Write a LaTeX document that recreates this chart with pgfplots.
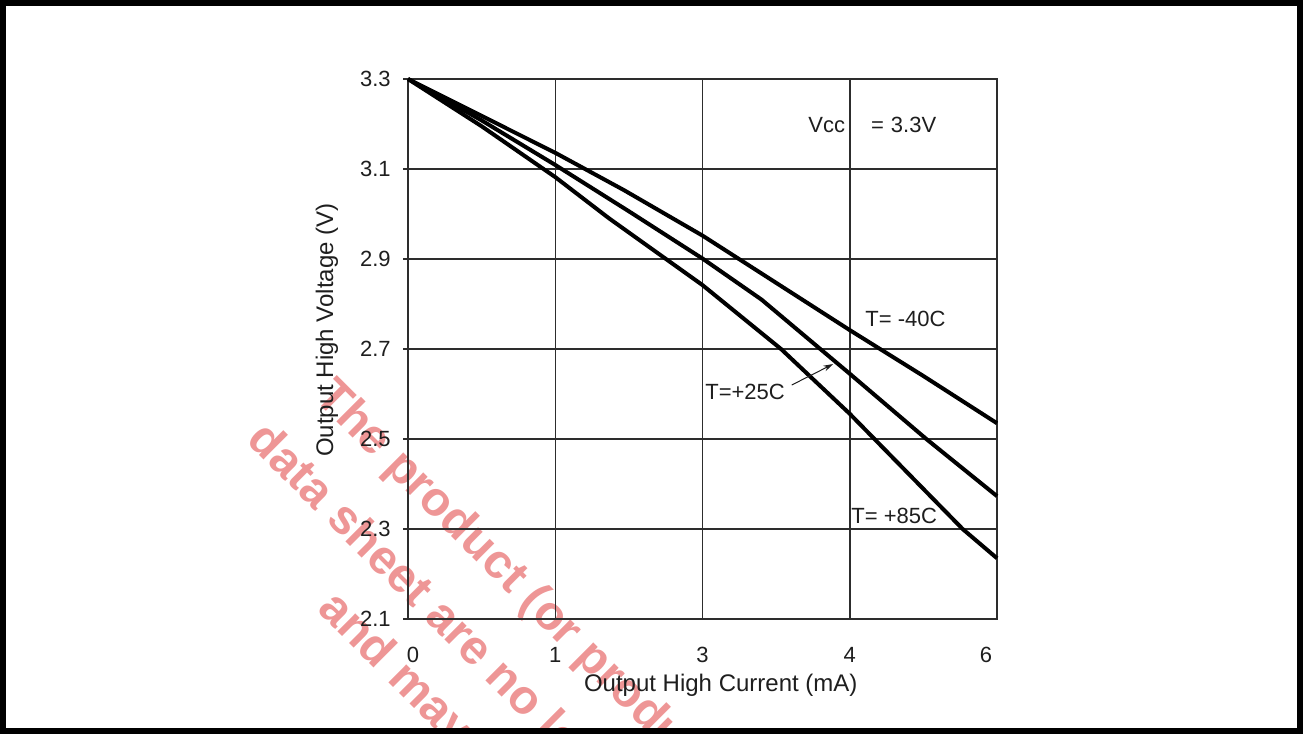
\documentclass[border=0pt]{standalone}
\usepackage{pgfplots}
\pgfplotsset{compat=1.18}
\usepackage{fontspec}
\setmainfont{Liberation Sans}
\usetikzlibrary{arrows.meta}

\definecolor{txt}{RGB}{30,30,30}
\definecolor{gridc}{RGB}{45,45,45}
\definecolor{wm}{RGB}{238,150,150}

\begin{document}
\begin{tikzpicture}[x=1pt,y=1pt]
\useasboundingbox (0,0) rectangle (651.5,367);
\clip (0,0) rectangle (651.5,367);
% watermark
\begin{scope}[every node/.style={rotate=-45, anchor=base west, inner sep=0pt, text=wm, font=\fontsize{24}{28}\selectfont\bfseries}]
\node at (156.5,168) {The product (or products)};
\node at (122.8,146.5) {data sheet are no longer};
\node at (158,62) {and may not};
\end{scope}
\begin{axis}[
  at={(204pt,57.5pt)}, anchor=south west,
  width=294.5pt, height=270pt, scale only axis,
  xmin=0, xmax=6, ymin=2.1, ymax=3.3,
  clip=false,
  xtick={0,1.5,3,4.5,6},
  xticklabels={\kern5pt 0, 1, 3, 4, 6\kern11pt},
  ytick={2.1,2.3,2.5,2.7,2.9,3.1,3.3},
  yticklabels={2.1,2.3,2.5,2.7,2.9,3.1,3.3},
  grid=major,
  major grid style={gridc, line width=0.75pt},
  axis line style={gridc, line width=0.8pt},
  tick align=outside,
  ytick pos=left,
  major tick length=2.5pt,
  xtick style={draw=none},
  ytick style={gridc, line width=0.6pt},
  tick label style={font=\fontsize{11}{13}\selectfont, text=txt, inner sep=0pt},
  yticklabel style={xshift=-6pt},
  xticklabel style={anchor=north, yshift=-11.5pt},
  xlabel={Output High Current (mA)},
  ylabel={Output High Voltage (V)},
  xlabel style={at={(axis description cs:0.531,-0.135)}, anchor=base, font=\fontsize{12}{14}\selectfont, text=txt, inner sep=0pt},
  ylabel style={at={(axis description cs:-0.1273,0.535)}, anchor=base, font=\fontsize{12}{14}\selectfont, text=txt, inner sep=0pt},
]
% T = -40C
\addplot[black, line width=2pt, line join=round] coordinates {
(0,3.3) (0.75,3.218) (1.5,3.136) (2.2,3.053) (3,2.952) (3.8,2.84) (4.5,2.742) (5.25,2.64) (6,2.535)
};
% T = +25C
\addplot[black, line width=2pt, line join=round] coordinates {
(0,3.3) (0.75,3.208) (1.5,3.109) (2.25,3.006) (3,2.901) (3.6,2.81) (4.2,2.7) (4.5,2.645) (5.28,2.5) (6,2.373)
};
% T = +85C
\addplot[black, line width=2pt, line join=round] coordinates {
(0,3.3) (0.75,3.195) (1.5,3.082) (2.05,2.99) (3,2.842) (3.8,2.70) (4.5,2.556) (5.65,2.3) (6,2.235)
};
\node[anchor=base west, inner sep=0pt, text=txt, font=\fontsize{11}{13}\selectfont] at (axis cs:4.075,3.182) {Vcc\hspace{13pt}=\hspace{3.5pt}3.3V};
\node[anchor=base west, inner sep=0pt, text=txt, font=\fontsize{11}{13}\selectfont] at (axis cs:4.655,2.751) {T= -40C};
\node[anchor=base west, inner sep=0pt, text=txt, font=\fontsize{11}{13}\selectfont] at (axis cs:3.025,2.587) {T=+25C};
\node[anchor=base west, inner sep=0pt, text=txt, font=\fontsize{11}{13}\selectfont] at (axis cs:4.513,2.313) {T= +85C};
\draw[txt, line width=0.5pt, -{Stealth[length=5pt,width=3pt]}] (axis cs:3.909,2.62) -- (axis cs:4.332,2.6667);
\end{axis}
\draw[black, line width=3pt] (1.5,1.5) rectangle (650,365.5);
\end{tikzpicture}
\end{document}
